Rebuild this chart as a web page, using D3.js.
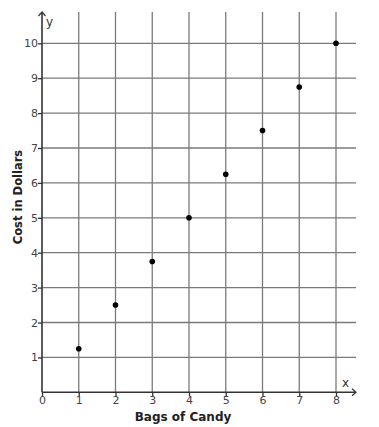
<!DOCTYPE html>
<html><head><meta charset="utf-8">
<script src="https://cdn.jsdelivr.net/npm/d3@7"></script>
<style>body{margin:0;background:#fff}svg{display:block}</style>
</head><body>
<svg id="c" width="379" height="427"></svg>
<script>
const bags = [1, 2, 3, 4, 5, 6, 7, 8];
const cost = [1.25, 2.5, 3.75, 5, 6.25, 7.5, 8.75, 10];
const xTicks = [0, 1, 2, 3, 4, 5, 6, 7, 8];
const yTicks = [1, 2, 3, 4, 5, 6, 7, 8, 9, 10];
const xTitle = "Bags of Candy";
const yTitle = "Cost in Dollars";

const svg = d3.select("#c");
const x = d3.scaleLinear().domain([0, 8]).range([42, 336]);
const y = d3.scaleLinear().domain([0, 10]).range([392.3, 43.3]);
const xMax = x.invert(356), yMax = y.invert(12);
const font = "'DejaVu Sans', sans-serif";

// grid
const g = svg.append("g");
g.selectAll(".vg").data(xTicks.slice(1)).join("line")
  .attr("x1", d => x(d)).attr("x2", d => x(d))
  .attr("y1", y(0)).attr("y2", y(yMax))
  .attr("stroke", "#7a7a7a").attr("stroke-width", 1.3);
g.selectAll(".hg").data(yTicks).join("line")
  .attr("x1", x(0)).attr("x2", x(xMax))
  .attr("y1", d => y(d)).attr("y2", d => y(d))
  .attr("stroke", "#7a7a7a").attr("stroke-width", 1.3);

// axes via d3 axis
const xAxis = svg.append("g").attr("transform", `translate(0,${y(0)})`)
  .call(d3.axisBottom(x).tickValues(xTicks).tickSize(4).tickSizeOuter(0));
xAxis.select(".domain").remove();
xAxis.selectAll("line").attr("stroke", "#333").attr("stroke-width", 1.3);
xAxis.selectAll("text").attr("font-family", font).attr("font-size", 11).attr("fill", "#444").attr("dy", "0.6em").attr("y", 5);

const yAxis = svg.append("g").attr("transform", `translate(${x(0)},0)`)
  .call(d3.axisLeft(y).tickValues(yTicks).tickSize(4).tickSizeOuter(0));
yAxis.select(".domain").remove();
yAxis.selectAll("line").attr("stroke", "#333").attr("stroke-width", 1.3);
yAxis.selectAll("text").attr("font-family", font).attr("font-size", 11).attr("fill", "#444").attr("x", -4);

// axis lines
svg.append("line").attr("x1", x(0)).attr("x2", x(xMax)).attr("y1", y(0)).attr("y2", y(0))
  .attr("stroke", "#333").attr("stroke-width", 1.6);
svg.append("line").attr("x1", x(0)).attr("x2", x(0)).attr("y1", y(0)).attr("y2", y(yMax))
  .attr("stroke", "#333").attr("stroke-width", 1.6);
// arrowheads
svg.append("path").attr("d", `M${x(0)-3.5},${y(yMax)+4} L${x(0)},${y(yMax)} L${x(0)+3.5},${y(yMax)+4}`)
  .attr("fill", "none").attr("stroke", "#333").attr("stroke-width", 1.2);
svg.append("path").attr("d", `M${x(xMax)-4},${y(0)-3.5} L${x(xMax)},${y(0)} L${x(xMax)-4},${y(0)+3.5}`)
  .attr("fill", "none").attr("stroke", "#333").attr("stroke-width", 1.2);

svg.append("text").attr("x", x(0) + 4).attr("y", y(yMax) + 14).text("y")
  .attr("font-family", font).attr("font-size", 12).attr("fill", "#333");
svg.append("text").attr("x", x(xMax) - 14).attr("y", y(0) - 5).text("x")
  .attr("font-family", font).attr("font-size", 12).attr("fill", "#333");

// titles
svg.append("text").attr("x", 183).attr("y", 421).attr("text-anchor", "middle")
  .attr("font-family", font).attr("font-weight", "bold").attr("font-size", 12).attr("fill", "#222").text(xTitle);
svg.append("text").attr("transform", "translate(22,197) rotate(-90)").attr("text-anchor", "middle")
  .attr("font-family", font).attr("font-weight", "bold").attr("font-size", 11.5).attr("fill", "#222").text(yTitle);

// points
svg.selectAll(".pt").data(bags).join("circle")
  .attr("cx", (d) => x(d)).attr("cy", (d, i) => y(cost[i])).attr("r", 2.8).attr("fill", "#000");
</script>
</body></html>
